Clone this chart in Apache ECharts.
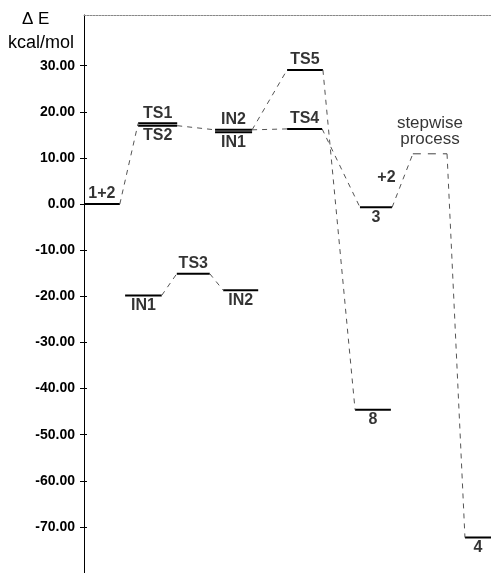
<!DOCTYPE html>
<html>
<head>
<meta charset="utf-8">
<script src="https://cdn.jsdelivr.net/npm/echarts@6/dist/echarts.min.js"></script>
<style>html,body{margin:0;padding:0;background:#fff;}#c{width:491px;height:573px;}</style>
</head>
<body>
<div id="c"></div>
<script>
// Energy levels (reaction coordinate start/end, energy in kcal/mol)
const levelNames  = ['1+2', 'TS1', 'TS2', 'IN2', 'IN1', 'TS5', 'TS4', '3', '8', '4', 'IN1', 'TS3', 'IN2'];
const levelStart  = [0, 13.3, 13.3, 32.2, 32.2, 49.9, 49.9, 67.8, 66.6, 93.6, 10.1, 22.8, 34.2];
const levelEnd    = [8.8, 22.9, 22.9, 41.3, 41.3, 58.7, 58.5, 75.7, 75.4, 100, 19.1, 30.9, 42.8];
const levelEnergy = [0, 17.5, 17.0, 16.1, 15.6, 29.1, 16.3, -0.7, -44.6, -72.3, -19.8, -15.1, -18.7];
const labelAbove  = [true, true, false, true, false, true, true, false, false, false, false, true, false];

// "stepwise process" plateau
const stepName = 'stepwise\nprocess';
const stepStart = 80.8, stepEnd = 89.2, stepEnergy = 10.9;

// connections: [from level, to level]  ('S' = stepwise plateau)
const connections = [[0, 1], [2, 3], [3, 5], [3, 6], [5, 8], [6, 7], [7, 'S'], ['S', 9], [10, 11], [11, 12]];

const tickValues = [-70, -60, -50, -40, -30, -20, -10, 0, 10, 20, 30];

const FONT = '"Liberation Sans", Arial, sans-serif';

function endPt(k) { return k === 'S' ? [stepEnd, stepEnergy] : [levelEnd[k], levelEnergy[k]]; }
function startPt(k) { return k === 'S' ? [stepStart, stepEnergy] : [levelStart[k], levelEnergy[k]]; }

const series = [];
levelNames.forEach((n, i) => {
  series.push({
    type: 'line', silent: true, symbol: 'none', animation: false,
    data: [[levelStart[i], levelEnergy[i]], [levelEnd[i], levelEnergy[i]]],
    lineStyle: { color: '#000', width: 2 }, z: 3
  });
});
series.push({
  type: 'line', silent: true, symbol: 'none', animation: false,
  data: [[stepStart, stepEnergy], [stepEnd, stepEnergy]],
  lineStyle: { color: '#444', width: 1, type: [8, 7] }
});
connections.forEach(c => {
  series.push({
    type: 'line', silent: true, symbol: 'none', animation: false,
    data: [endPt(c[0]), startPt(c[1])],
    lineStyle: { color: '#555', width: 1, type: [5, 5] }
  });
});

const labelData = levelNames.map((n, i) => ({
  value: [(levelStart[i] + levelEnd[i]) / 2, levelEnergy[i]],
  label: { formatter: n, position: labelAbove[i] ? 'top' : 'bottom', distance: 2 }
}));
labelData.push({
  value: [(stepStart + stepEnd) / 2, stepEnergy],
  label: { formatter: stepName, position: 'top', distance: 6, fontWeight: 'normal', fontSize: 17, lineHeight: 16 }
});
// "+2" annotation on the 3 -> stepwise connector
const a = endPt(7), b = startPt('S');
labelData.push({
  value: [(a[0] + b[0]) / 2, (a[1] + b[1]) / 2],
  label: { formatter: '+2', position: 'inside', offset: [-16, -3] }
});
series.push({
  type: 'scatter', silent: true, animation: false, symbolSize: 0,
  data: labelData,
  label: { show: true, color: '#000', fontFamily: FONT, fontWeight: 'bold', fontSize: 16 },
  z: 5
});

const chart = echarts.init(document.getElementById('c'), null, { renderer: 'canvas' });
chart.setOption({
  animation: false,
  backgroundColor: '#fff',
  grid: { left: 84, right: 0, top: 15, bottom: -6, containLabel: false },
  xAxis: {
    type: 'value', min: 0, max: 100, position: 'top',
    axisLine: { show: true, onZero: false, lineStyle: { color: '#888', width: 1, type: [2, 1] } },
    axisTick: { show: false }, axisLabel: { show: false }, splitLine: { show: false }
  },
  yAxis: [{
    type: 'value', min: -80, max: 41,
    axisLine: { show: true, onZero: false, lineStyle: { color: '#000', width: 1 } },
    axisTick: { show: true, customValues: tickValues, length: 4, lineStyle: { color: '#000' } },
    axisLabel: { show: true, customValues: tickValues, formatter: v => v.toFixed(2), color: '#000', fontFamily: FONT, fontWeight: 'bold', fontSize: 14, margin: 9 },
    splitLine: { show: false }
  }, {
    type: 'value', min: -80, max: 41, position: 'left',
    axisLine: { show: false, onZero: false },
    axisTick: { show: true, inside: true, customValues: tickValues, length: 3, lineStyle: { color: '#000' } },
    axisLabel: { show: false }, splitLine: { show: false }
  }],
  graphic: [
    { type: 'text', left: 22, top: 11, style: { text: 'Δ E', font: '17px ' + FONT, fill: '#000' } },
    { type: 'text', left: 8, top: 34, style: { text: 'kcal/mol', font: '18px ' + FONT, fill: '#000' } }
  ],
  series: series
});
</script>
</body>
</html>
